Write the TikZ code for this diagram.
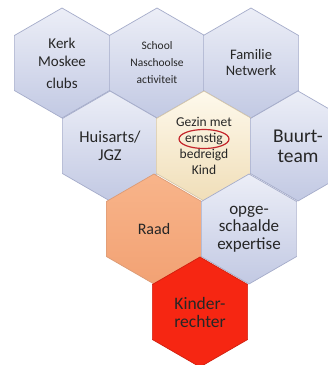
\documentclass[tikz,border=0pt]{standalone}
\usepackage{fontspec}
\setmainfont{Carlito}
\usetikzlibrary{shapes.geometric}
\definecolor{cellTop}{RGB}{236,238,247}
\definecolor{cellBot}{RGB}{194,201,227}
\definecolor{cellEdge}{RGB}{165,172,202}
\definecolor{coreTop}{RGB}{254,249,236}
\definecolor{coreBot}{RGB}{240,222,184}
\definecolor{raadTop}{RGB}{248,180,138}
\definecolor{raadBot}{RGB}{242,162,116}
\definecolor{judgeRed}{RGB}{246,38,18}
\definecolor{markRed}{RGB}{196,38,44}

\begin{document}
\begin{tikzpicture}[x=1pt,y=-1pt,
  hexbase/.style={regular polygon,regular polygon sides=6,regular polygon rotate=30,
    minimum size=110pt,inner sep=0pt,line width=0.7pt,
    align=center,text=black!85,font=\fontsize{15}{18}\selectfont},
  cell/.style={hexbase,draw=cellEdge,top color=cellTop,bottom color=cellBot},
  core/.style={hexbase,top color=coreTop,bottom color=coreBot,draw=coreBot!75!gray},
  raad/.style={hexbase,top color=raadTop,bottom color=raadBot,draw=raadBot!80!gray},
  judge/.style={hexbase,fill=judgeRed,draw=judgeRed!85!black}]
\useasboundingbox (0,0) rectangle (328,365);
\clip (0,0) rectangle (328,365);
\fill[white] (0,0) rectangle (328,365);
% top row
\node[cell] (kerk) at (62,63) {Kerk\\Moskee\\[4pt]clubs};
\node[cell,font=\fontsize{11.5}{17}\selectfont] (school) at (157,63) {School\\Naschoolse\\activiteit};
\node[cell,font=\fontsize{14.5}{16}\selectfont] (familie) at (251,63) {Familie\\Netwerk};
% middle row
\node[cell,font=\fontsize{16.5}{17.5}\selectfont] (huisarts) at (110,146) {Huisarts/\\JGZ};
\node[core,font=\fontsize{13.5}{16}\selectfont] (gezin) at (204,146) {Gezin met\\ernstig\\bedreigd\\Kind};
\node[cell,font=\fontsize{19.5}{20}\selectfont] (buurt) at (298,146) {Buurt-\\team};
\node[ellipse,draw=markRed,line width=1.2pt,minimum width=50pt,minimum height=19pt] (mark) at (204,139) {};
% lower rows
\node[raad,font=\fontsize{16}{18}\selectfont] (raad) at (154,229) {Raad};
\node[cell,font=\fontsize{17}{17.5}\selectfont] (opge) at (249,229) {opge-\\schaalde\\expertise};
\node[judge,font=\fontsize{17.5}{18}\selectfont] (kinder) at (200,312) {Kinder-\\rechter};
\end{tikzpicture}
\end{document}
